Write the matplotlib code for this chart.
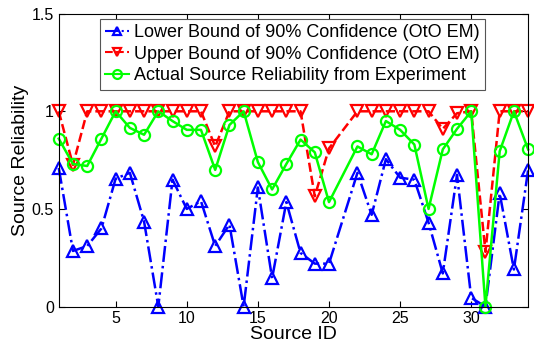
import numpy as np
import matplotlib
matplotlib.use("Agg")
import matplotlib.pyplot as plt

plt.rcParams['font.family'] = ['Liberation Sans', 'DejaVu Sans']

# source ids (no source 21)
source_id = [1, 2, 3, 4, 5, 6, 7, 8, 9, 10, 11, 12, 13, 14, 15, 16, 17, 18, 19, 20,
             22, 23, 24, 25, 26, 27, 28, 29, 30, 31, 32, 33, 34]

lower_bound = [0.71, 0.285, 0.31, 0.40, 0.655, 0.685, 0.435, 0.0, 0.65, 0.50, 0.54,
               0.31, 0.42, 0.0, 0.61, 0.145, 0.535, 0.275, 0.22, 0.22,
               0.685, 0.47, 0.755, 0.66, 0.65, 0.43, 0.17, 0.675, 0.045, 0.0,
               0.58, 0.19, 0.70]

upper_bound = [1.0, 0.725, 1.0, 1.0, 1.0, 1.0, 1.0, 1.0, 1.0, 1.0, 1.0,
               0.82, 1.0, 1.0, 1.0, 1.0, 1.0, 1.0, 0.565, 0.81,
               1.0, 1.0, 1.0, 1.0, 1.0, 1.0, 0.91, 0.99, 1.0, 0.28,
               1.0, 1.0, 1.0]

actual = [0.86, 0.73, 0.72, 0.86, 1.0, 0.915, 0.88, 1.0, 0.95, 0.905, 0.905,
          0.70, 0.93, 1.0, 0.74, 0.60, 0.73, 0.855, 0.79, 0.535,
          0.82, 0.78, 0.95, 0.905, 0.83, 0.50, 0.805, 0.91, 1.0, 0.0,
          0.795, 1.0, 0.805]

fig = plt.figure(figsize=(5.34, 3.5), dpi=100)
ax = fig.add_axes([0.110, 0.124, 0.879, 0.837])

style = dict(lw=1.8, ms=8, mfc='none', mew=1.6, clip_on=False)
ax.plot(source_id, lower_bound, '-.', color='#0000ff', marker='^',
        label='Lower Bound of 90% Confidence (OtO EM)', **style)
ax.plot(source_id, upper_bound, '--', color='#ff0000', marker='v',
        label='Upper Bound of 90% Confidence (OtO EM)', **style)
ax.plot(source_id, actual, '-', color='#00ff00', marker='o',
        label='Actual Source Reliability from Experiment', **style)

ax.set_xlim(1, 34)
ax.set_ylim(0, 1.5)
ax.set_xticks([5, 10, 15, 20, 25, 30])
ax.set_yticks([0, 0.5, 1, 1.5])
ax.set_yticklabels(['0', '0.5', '1', '1.5'])
ax.tick_params(direction='in', top=True, right=True, labelsize=11.5, length=4)
ax.set_xlabel('Source ID', fontsize=14, labelpad=0)
ax.set_ylabel('Source Reliability', fontsize=14, labelpad=2)

leg = ax.legend(loc='upper left', bbox_to_anchor=(0.08, 0.995), fontsize=13,
                handlelength=1.3, handletextpad=0.3, borderpad=0.3,
                labelspacing=0.25, fancybox=False, framealpha=1,
                edgecolor='#555555', borderaxespad=0.2, markerscale=0.8)
leg.get_frame().set_linewidth(0.8)
for h in leg.get_lines():
    h.set_linewidth(1.5)

fig.savefig('out.png', dpi=100)
